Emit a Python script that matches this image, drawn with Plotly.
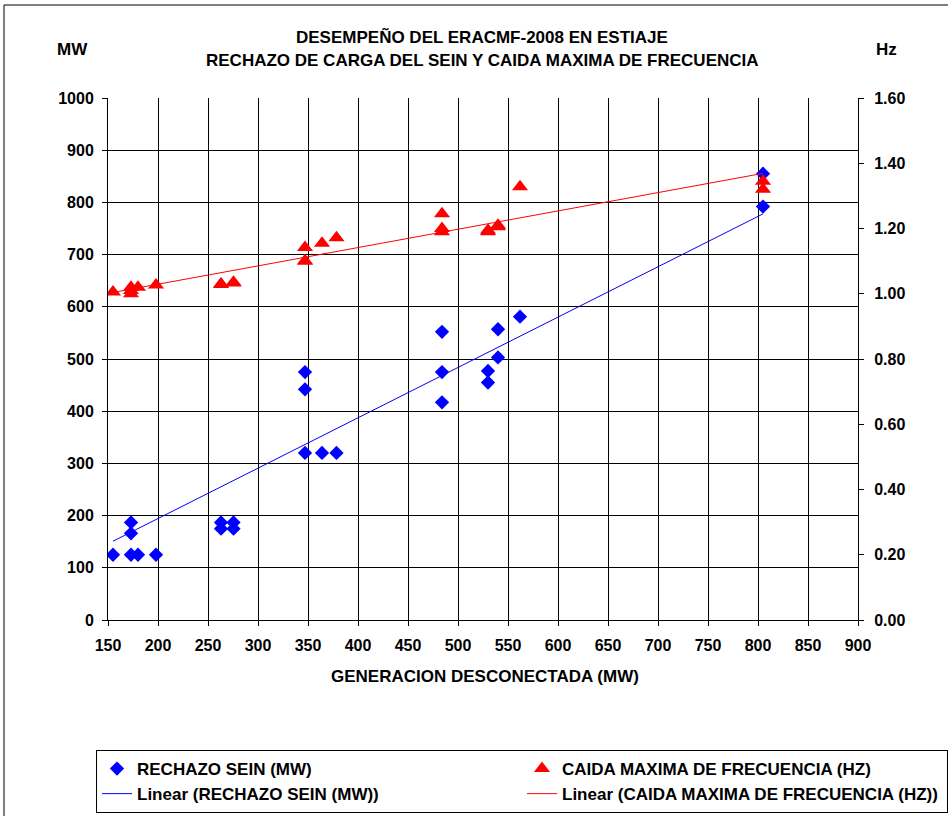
import plotly.graph_objects as go

# ---- data ----
generacion_mw = [155, 173, 173, 173, 180, 198, 263, 263, 275.5, 275.5,
                 347, 347, 347, 364, 378.5, 484, 484, 484, 530, 530,
                 540, 540, 562, 805, 805]
rechazo_sein_mw = [125, 125, 187, 166, 125, 125, 187, 175, 187, 175,
                   320, 475, 442, 320, 320, 552, 475, 417, 477, 455,
                   557, 503, 581, 855, 792]
caida_freq_hz = [1.005, 1.00, 1.02, 1.01, 1.02, 1.027, 1.03, 1.028, 1.035, 1.033,
                 1.10, 1.142, 1.10, 1.155, 1.172, 1.245, 1.20, 1.19, 1.19, 1.195,
                 1.21, 1.205, 1.328, 1.345, 1.32]

# linear trendlines as drawn in the reference (end points)
trend_x = [155, 805]
trend_mw = [151, 778]
trend_hz = [1.004, 1.369]

title_lines = ["DESEMPEÑO DEL ERACMF-2008 EN ESTIAJE",
               "RECHAZO DE CARGA DEL SEIN Y CAIDA MAXIMA DE FRECUENCIA"]
x_title = "GENERACION DESCONECTADA (MW)"
names = ["RECHAZO SEIN (MW)", "CAIDA MAXIMA DE FRECUENCIA (HZ)"]

# ---- layout geometry ----
W, H = 948, 816
L, R, T, B = 108, 858, 98, 620
BLUE, RED = "#0000FF", "#FF0000"
FONT = "Liberation Sans, Arial, sans-serif"


def px(x):
    return (x - L) / (R - L)


def py(y):
    return (B - y) / (B - T)


fig = go.Figure()
fig.add_trace(go.Scatter(x=generacion_mw, y=rechazo_sein_mw, mode="markers", name=names[0],
                         marker=dict(symbol="diamond", size=11, color=BLUE), yaxis="y"))
fig.add_trace(go.Scatter(x=generacion_mw, y=caida_freq_hz, mode="markers", name=names[1],
                         marker=dict(symbol="triangle-up", size=14, color=RED), yaxis="y2"))
fig.add_trace(go.Scatter(x=trend_x, y=trend_mw, mode="lines",
                         name=f"Linear ({names[0]})", line=dict(color=BLUE, width=1), yaxis="y"))
fig.add_trace(go.Scatter(x=trend_x, y=trend_hz, mode="lines",
                         name=f"Linear ({names[1]})", line=dict(color=RED, width=1), yaxis="y2"))

axis_common = dict(showline=True, linecolor="black", linewidth=1, ticks="outside", ticklen=5,
                   tickcolor="black", zeroline=False, automargin=False,
                   tickfont=dict(family=FONT, size=16, color="black", weight="bold"))

fig.update_layout(
    width=W, height=H,
    margin=dict(l=L, r=W - R, t=T, b=H - B, autoexpand=False),
    paper_bgcolor="white", plot_bgcolor="white",
    font=dict(family=FONT, size=16, color="black", weight="bold"),
    showlegend=True,
    legend=dict(orientation="h", xref="paper", yref="paper",
                x=px(96), y=py(813), xanchor="left", yanchor="bottom",
                bordercolor="black", borderwidth=1, bgcolor="white",
                entrywidth=380, entrywidthmode="pixels",
                font=dict(family=FONT, size=17, color="black", weight="bold")),
    xaxis=dict(range=[150, 900], tick0=150, dtick=50, showgrid=True, gridcolor="black",
               gridwidth=1, ticklabelstandoff=6, **axis_common),
    yaxis=dict(range=[0, 1000], dtick=100, showgrid=True, gridcolor="black", gridwidth=1,
               ticklabelstandoff=5, **axis_common),
    yaxis2=dict(range=[0, 1.6], dtick=0.2, tickformat=".2f", overlaying="y", side="right",
                showgrid=False, ticklabelstandoff=7, **axis_common),
)

ann_font = dict(family=FONT, size=17, color="black", weight="bold")
annotations = [
    dict(text=title_lines[0], x=px(482), y=py(37)),
    dict(text=title_lines[1], x=px(482), y=py(60)),
    dict(text="MW", x=px(72), y=py(50)),
    dict(text="Hz", x=px(886), y=py(50)),
    dict(text=x_title, x=px(485), y=py(676)),
]
for a in annotations:
    fig.add_annotation(xref="paper", yref="paper", showarrow=False, xanchor="center",
                       yanchor="middle", font=ann_font, **a)

# outer chart-area frame (extends beyond the visible window on the right and bottom)
fig.add_shape(type="rect", xref="paper", yref="paper",
              x0=px(4), x1=px(960), y0=py(830), y1=py(5),
              line=dict(color="black", width=1), fillcolor="rgba(0,0,0,0)", layer="below")

fig.write_html("out.html", config={"displayModeBar": False},
               post_script="document.body.style.margin='0';")
